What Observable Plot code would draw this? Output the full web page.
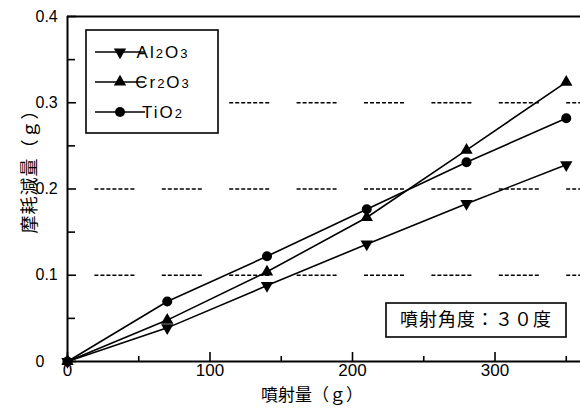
<!DOCTYPE html>
<html><head><meta charset="utf-8">
<script src="https://cdn.jsdelivr.net/npm/d3@7"></script>
<script src="https://cdn.jsdelivr.net/npm/@observablehq/plot@0.6"></script>
<style>
body{margin:0;background:#fff;}
#chart{width:580px;height:408px;position:relative;}
svg{overflow:visible;}
</style>
</head><body><div id="chart"></div>
<script>
// ---- data ----
const sprayAmount = [0, 70, 140, 210, 280, 350];
const al2o3 = [0, 0.039, 0.088, 0.136, 0.183, 0.228];
const cr2o3 = [0, 0.048, 0.104, 0.167, 0.245, 0.324];
const tio2  = [0, 0.0695, 0.122, 0.1765, 0.231, 0.282];
const seriesKeys = ["Al2O3", "Cr2O3", "TiO2"];
const xTickMajor = [0, 100, 200, 300];
const xTickMinor = [50, 150, 250, 350];
const yTickMajor = [0, 0.1, 0.2, 0.3, 0.4];
const yTickMinor = [0.05, 0.15, 0.25, 0.35];
const yGrid = [0.1, 0.2, 0.3];
const xTitle = "噴射量（ｇ）";
const yTitle = "摩耗減量（ｇ）";
const noteText = "噴射角度：３０度";

// ---- build ----
const sqrt3 = Math.sqrt(3);
const triDown = {draw(ctx, size){const y = Math.sqrt(size/(sqrt3*3)); ctx.moveTo(0, y*2); ctx.lineTo(-sqrt3*y, -y); ctx.lineTo(sqrt3*y, -y); ctx.closePath();}};
const triUp = d3.symbolTriangle;
const circ = d3.symbolCircle;
const symbols = {"Al2O3": triDown, "Cr2O3": triUp, "TiO2": circ};
const valuesByKey = {"Al2O3": al2o3, "Cr2O3": cr2o3, "TiO2": tio2};
const rows = seriesKeys.flatMap(k => sprayAmount.map((x, i) => ({series: k, x, y: valuesByKey[k][i]})));

const latin = "'Liberation Sans', Arial, sans-serif";
const cjk = "'Noto Sans CJK JP', 'Noto Sans CJK SC', sans-serif";
const gridDash = "0 27.4 4 2 4 2 4 2 4 2 4 2 4 2 4 0";

const marks = [
  Plot.ruleY(yGrid, {stroke: "black", strokeWidth: 1.7, strokeDasharray: gridDash}),
  // frame lines
  Plot.ruleX([0], {stroke: "black", strokeWidth: 2}),
  Plot.ruleY([0], {stroke: "black", strokeWidth: 2}),
  Plot.ruleY([0.4], {stroke: "black", strokeWidth: 2}),
  // inward ticks
  Plot.ruleX(xTickMajor, {x: d => d, y1: 0, y2: 0, insetTop: -9, stroke: "black", strokeWidth: 1.6}),
  Plot.ruleX(xTickMinor, {x: d => d, y1: 0, y2: 0, insetTop: -5, stroke: "black", strokeWidth: 1.6}),
  Plot.ruleY(yTickMajor, {y: d => d, x1: 0, x2: 0, insetRight: -9, stroke: "black", strokeWidth: 1.6}),
  Plot.ruleY(yTickMinor, {y: d => d, x1: 0, x2: 0, insetRight: -8, stroke: "black", strokeWidth: 1.6}),
  // tick labels
  Plot.text(xTickMajor, {x: d => d, frameAnchor: "bottom", dy: 14, text: d => String(d), fontSize: 17, fontFamily: latin, fill: "black"}),
  Plot.text(yTickMajor, {y: d => d, frameAnchor: "left", textAnchor: "start", dx: -32, text: d => d === 0 ? "0" : d.toFixed(1), fontSize: 16, fontFamily: latin, fill: "black"}),
  // x axis title
  Plot.text([xTitle], {frameAnchor: "bottom", dx: -12, dy: 39, text: d => d, fontSize: 17, letterSpacing: 1, fontFamily: cjk, fill: "black"})
];
for (const k of seriesKeys) {
  const data = rows.filter(r => r.series === k);
  marks.push(Plot.line(data, {x: "x", y: "y", stroke: "black", strokeWidth: 1.6}));
  marks.push(Plot.dot(data, {x: "x", y: "y", symbol: symbols[k], r: k === "TiO2" ? 5 : 4.6, fill: "black", stroke: "none"}));
}

const plot = Plot.plot({
  width: 580, height: 408,
  marginLeft: 67, marginRight: 0, marginTop: 16, marginBottom: 47,
  x: {domain: [0, 360], axis: null},
  y: {domain: [0, 0.4], axis: null},
  style: {background: "white", fontFamily: latin, overflow: "visible"},
  marks
});
document.getElementById("chart").appendChild(plot);

// ---- y title, legend & note (decorations) ----
const svg = d3.select(plot);
svg.append("text").attr("transform", "translate(29.5,167) rotate(-90)")
  .attr("text-anchor", "middle").attr("dy", "0.36em")
  .attr("font-family", cjk).attr("font-size", 18).attr("letter-spacing", 1)
  .attr("fill", "black").text(yTitle);

const lg = svg.append("g");
lg.append("rect").attr("x", 86).attr("y", 30).attr("width", 132).attr("height", 103)
  .attr("fill", "white").attr("stroke", "black").attr("stroke-width", 1.6);
const subs = {"Al2O3": [["Al",0],["2",1],["O",0],["3",1]], "Cr2O3": [["Cr",0],["2",1],["O",0],["3",1]], "TiO2": [["Ti",0],["O",0],["2",1]]};
seriesKeys.forEach((k, i) => {
  const cy = 52 + i * 30;
  lg.append("line").attr("x1", 95).attr("x2", 145).attr("y1", cy).attr("y2", cy).attr("stroke", "black").attr("stroke-width", 1.6);
  const size = Math.PI * (k === "TiO2" ? 5 : 4.6) ** 2;
  lg.append("path").attr("transform", `translate(120,${cy})`).attr("d", d3.symbol(symbols[k], size)()).attr("fill", "black");
  const t = lg.append("text").attr("x", 163).attr("y", cy + 6).attr("font-family", latin).attr("font-size", 17).attr("letter-spacing", 2).attr("fill", "black");
  subs[k].forEach(([s, isSub]) => {
    t.append("tspan").attr("font-size", isSub ? 13 : 17).text(s);
  });
});
const ng = svg.append("g");
ng.append("rect").attr("x", 386).attr("y", 303).attr("width", 180).attr("height", 34)
  .attr("fill", "white").attr("stroke", "black").attr("stroke-width", 1.6);
ng.append("text").attr("x", 476).attr("y", 320).attr("dy", "0.36em").attr("text-anchor", "middle")
  .attr("font-family", cjk).attr("font-size", 18).attr("letter-spacing", 1).attr("fill", "black").text(noteText);
</script>
</body></html>
